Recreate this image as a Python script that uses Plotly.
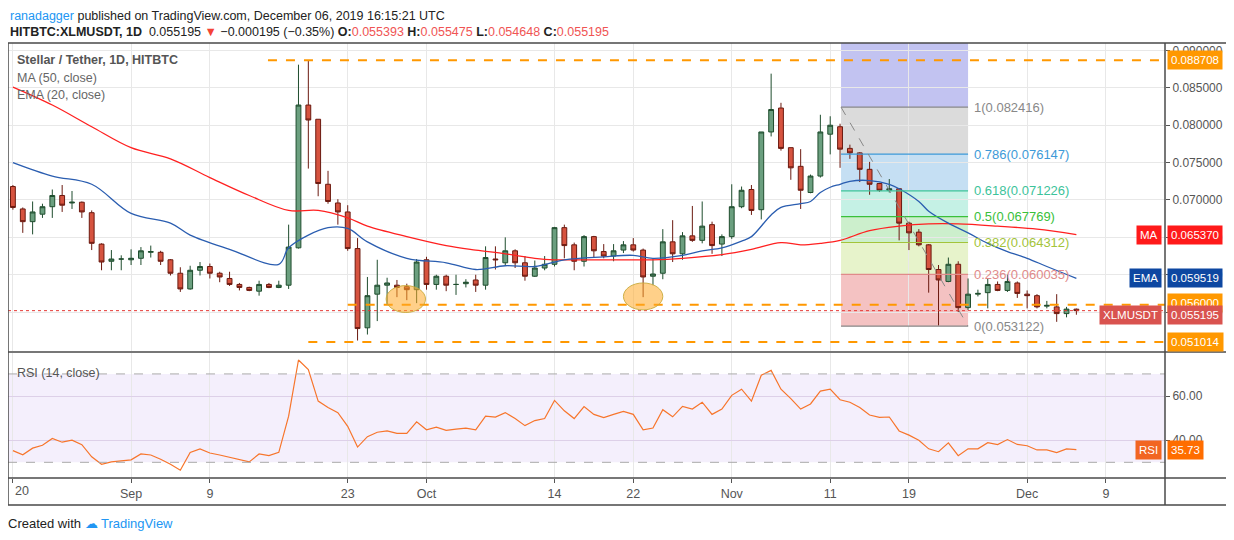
import plotly.graph_objects as go
import pandas as pd

start = pd.Timestamp("2019-08-20")
opens = [.0718,.0688,.0671,.0681,.0691,.0706,.0696,.0697,.0683,.0641,.0618,.0621,.0620,.0622,.0630,.0630,.0620,.0602,.0581,.0606,
         .0611,.0602,.0595,.0587,.0583,.0578,.0587,.0583,.0586,.0636,.0827,.0808,.0721,.0696,.0684,.0635,.0529,.0574,.0586,.0586,
         .0584,.0580,.0620,.0587,.0598,.0587,.0588,.0593,.0586,.0621,.0616,.0632,.0616,.0598,.0609,.0614,.0663,.0640,.0618,.0651,
         .0631,.0625,.0633,.0640,.0633,.0598,.0602,.0644,.0628,.0652,.0646,.0667,.0641,.0651,.0691,.0714,.0687,.0791,.0823,.0770,
         .0745,.0710,.0732,.0788,.0798,.0769,.0763,.0741,.0722,.0713,.0715,.0669,.0657,.0640,.0607,.0591,.0614,.0556,.0574,.0576,
         .0587,.0579,.0589,.0574,.0572,.0558,.0557,.0548,.055393]
highs = [.0720,.0690,.0698,.0695,.0714,.0720,.0712,.0698,.0686,.0642,.0633,.0626,.0634,.0637,.0639,.0632,.0621,.0610,.0612,.0617,
         .0615,.0604,.0604,.0589,.0584,.0592,.0589,.0592,.0667,.0881,.0887,.0808,.0739,.0701,.0693,.0649,.0597,.0620,.0596,.0593,
         .0588,.0621,.0624,.0600,.0600,.0600,.0594,.0600,.0638,.0638,.0650,.0634,.0625,.0619,.0625,.0664,.0667,.0643,.0653,.0652,
         .0641,.0641,.0645,.0649,.0635,.0621,.0661,.0673,.0657,.0692,.0698,.0671,.0654,.0721,.0718,.0720,.0791,.0869,.0830,.0770,
         .0768,.0734,.0814,.0812,.0802,.0774,.0764,.0751,.0723,.0728,.0716,.0671,.0661,.0641,.0613,.0623,.0618,.0595,.0580,.0595,
         .0591,.0600,.0591,.0579,.0574,.0565,.0574,.0557,.055475]
lows = [.0687,.0656,.0654,.0676,.0676,.0684,.0688,.0676,.0633,.0606,.0606,.0606,.0613,.0613,.0623,.0613,.0599,.0577,.0580,.0599,
        .0595,.0590,.0585,.0579,.0578,.0572,.0582,.0582,.0581,.0635,.0742,.0705,.0695,.0667,.0632,.0512,.0520,.0538,.0560,.0570,
        .0566,.0562,.0580,.0580,.0578,.0573,.0583,.0577,.0580,.0607,.0612,.0609,.0592,.0597,.0606,.0611,.0622,.0606,.0611,.0623,
        .0622,.0618,.0629,.0631,.0570,.0586,.0594,.0617,.0620,.0644,.0642,.0628,.0625,.0648,.0689,.0680,.0674,.0785,.0766,.0727,
        .0688,.0709,.0730,.0761,.0743,.0755,.0724,.0707,.0711,.0710,.0646,.0633,.0638,.0576,.0532,.0590,.0550,.0553,.0571,.0555,
        .0578,.0577,.0569,.0555,.0555,.0555,.0537,.0543,.054648]
closes = [.0690,.0671,.0684,.0691,.0706,.0693,.0697,.0684,.0642,.0617,.0621,.0621,.0622,.0632,.0631,.0618,.0602,.0581,.0606,.0611,
          .0602,.0597,.0587,.0583,.0579,.0587,.0583,.0586,.0637,.0827,.0807,.0722,.0698,.0684,.0635,.0528,.0572,.0586,.0589,.0583,
          .0580,.0617,.0587,.0598,.0586,.0587,.0590,.0586,.0623,.0620,.0632,.0616,.0598,.0609,.0614,.0663,.0639,.0618,.0651,.0632,
          .0625,.0632,.0640,.0633,.0597,.0601,.0644,.0628,.0652,.0646,.0665,.0639,.0651,.0691,.0713,.0686,.0791,.0821,.0769,.0743,
          .0713,.0732,.0791,.0800,.0768,.0763,.0741,.0721,.0713,.0715,.0669,.0656,.0640,.0607,.0593,.0614,.0556,.0574,.0575,.0587,
          .0579,.0591,.0575,.0572,.0557,.0559,.0548,.0554,.055195]
rsi = [35.3,33.4,36.4,37.7,40.8,39.1,40.0,38.0,32.5,29.1,30.2,30.6,31.1,33.8,33.3,31.4,29.1,26.4,34.5,36.1,
       34.2,33.3,32.2,31.1,30.2,33.8,33.0,34.5,50.9,76.3,72.0,57.7,54.8,52.5,46.3,36.9,41.6,43.6,44.2,43.1,
       43.1,48.3,44.7,45.9,44.5,45.0,45.5,44.7,50.9,50.5,52.5,49.8,46.6,48.9,49.8,58.0,53.3,49.8,55.2,51.7,
       50.2,51.7,53.0,51.7,44.7,45.5,53.8,50.6,55.3,54.1,57.2,51.7,54.1,60.3,63.1,57.7,69.4,71.6,63.1,58.8,
       54.1,56.4,62.2,63.1,58.3,57.2,54.8,51.4,50.3,50.5,44.2,42.3,40.0,36.1,34.8,38.8,33.0,36.1,36.1,38.9,
       38.0,40.3,38.1,37.5,35.6,35.6,34.4,36.1,35.73]
ema_idx = [0,4,8,12,16,18,22,27,28,30,32,34,36,40,44,47,50,53,56,60,63,65,68,70,72,74,75,77,78,80,81,82,83,84,85,87,89,90,92,93,95,97,99,101,103,105,108]
ema_val = [.0750,.0732,.0721,.0682,.0669,.0653,.0634,.0614,.0636,.0653,.0663,.0662,.0644,.0622,.0616,.0607,.0612,.0611,.0620,.0624,.0626,.0622,.0626,.0632,.0636,.0645,.0651,.0680,.0690,.0695,.0698,.0710,.0717,.0721,.0725,.0726,.0721,.0715,.0698,.0685,.0669,.0656,.0642,.0631,.0622,.0611,.059519]
ma_idx = [0,4,8,12,16,20,24,28,31,34,36,40,44,47,50,53,55,60,65,68,72,75,78,80,82,84,87,90,93,96,100,104,108]
ma_val = [.0851,.0827,.0798,.0770,.0755,.0730,.0706,.0686,.0686,.0676,.0665,.0651,.0639,.0633,.0628,.0622,.0620,.0620,.0620,.0622,.0627,.0634,.0643,.0640,.0642,.0646,.0659,.0665,.0668,.0668,.0665,.0661,.06537]
fib_levels = [1, 0.786, 0.618, 0.5, 0.382, 0.236, 0]
fib_prices = [0.082416, 0.076147, 0.071226, 0.067769, 0.064312, 0.060035, 0.053122]
tick_dates = ["2019-08-20","2019-09-01","2019-09-09","2019-09-23","2019-10-01","2019-10-14","2019-10-22","2019-11-01","2019-11-11","2019-11-19","2019-12-01","2019-12-09"]
tick_text = ["20","Sep","9","23","Oct","14","22","Nov","11","19","Dec","9"]
price_ticks = [0.055,0.060,0.065,0.070,0.075,0.080,0.085,0.090]

dates = [start + pd.Timedelta(days=i) for i in range(len(closes))]
D = lambda i: start + pd.Timedelta(hours=24*i)

fig = go.Figure()
fig.add_trace(go.Candlestick(x=dates, open=opens, high=highs, low=lows, close=closes,
    increasing=dict(fillcolor="#6b9f7f", line=dict(color="#1f4d2e", width=1)),
    decreasing=dict(fillcolor="#d6533f", line=dict(color="#6b1a10", width=1)),
    whiskerwidth=0, showlegend=False, hoverinfo="skip"))
fig.add_trace(go.Scatter(x=[D(i) for i in ma_idx], y=ma_val, mode="lines", line=dict(color="#ff2020", width=1.3, shape="spline"), showlegend=False))
fig.add_trace(go.Scatter(x=[D(i) for i in ema_idx], y=ema_val, mode="lines", line=dict(color="#2a5db0", width=1.3, shape="spline"), showlegend=False))
fig.add_trace(go.Scatter(x=dates, y=rsi, mode="lines", line=dict(color="#f7752b", width=1.2), xaxis="x2", yaxis="y2", showlegend=False))

shapes = []
fl, fr = D(84.1), D(97)
shapes.append(dict(type="rect", xref="x", yref="y", x0=fl, x1=fr, y0=fib_prices[0], y1=0.0915, fillcolor="rgba(120,123,225,0.45)", line_width=0, layer="below"))
fills = ["rgba(175,175,175,0.45)","rgba(110,175,225,0.4)","rgba(110,220,190,0.4)","rgba(110,210,110,0.35)","rgba(195,225,125,0.4)","rgba(230,120,120,0.45)"]
cols = ["#888888","#3d9ad8","#3cc39a","#3ac03a","#a3c43a","#e08a8a","#888888"]
for k in range(6):
    shapes.append(dict(type="rect", xref="x", yref="y", x0=fl, x1=fr, y0=fib_prices[k+1], y1=fib_prices[k], fillcolor=fills[k], line_width=0, layer="below"))
for k, p in enumerate(fib_prices):
    shapes.append(dict(type="line", xref="x", yref="y", x0=fl, x1=fr, y0=p, y1=p, line=dict(color=cols[k], width=1.2)))
shapes.append(dict(type="line", xref="x", yref="y", x0=fl, x1=fr, y0=fib_prices[0], y1=fib_prices[-1], line=dict(color="#888", width=1, dash="dash")))
for p, i0 in [(0.088708, 25.9), (0.056, 34), (0.051014, 30)]:
    shapes.append(dict(type="line", xref="x", yref="y", x0=D(i0), x1=D(117), y0=p, y1=p, line=dict(color="#ff9800", width=2, dash="dash")))
shapes.append(dict(type="line", xref="x", yref="y", x0=D(-0.5), x1=D(117), y0=0.055195, y1=0.055195, line=dict(color="#e53935", width=1, dash="dot")))
for ci, cp in [(39.9, 0.05675), (64, 0.0571)]:
    shapes.append(dict(type="circle", xref="x", yref="y", x0=D(ci-2), x1=D(ci+2), y0=cp-0.0018, y1=cp+0.0018, fillcolor="rgba(255,170,40,0.55)", line=dict(color="rgba(200,170,60,0.9)", width=1)))
shapes.append(dict(type="rect", xref="paper", yref="y2", x0=0, x1=1, y0=30, y1=70, fillcolor="rgba(150,100,230,0.1)", line_width=0, layer="below"))
for v in (30, 70):
    shapes.append(dict(type="line", xref="paper", yref="y2", x0=0, x1=1, y0=v, y1=v, line=dict(color="#aaa", width=1, dash="dash")))
px = lambda p: (p - 8) / 1157
py = lambda p: (478 - p) / 435
fc = dict(color="#4a4a4a", width=1.5)
shapes.append(dict(type="rect", xref="paper", yref="paper", x0=0, x1=px(1233), y0=py(505), y1=1, line=fc))
shapes.append(dict(type="line", xref="paper", yref="paper", x0=1, x1=1, y0=py(505), y1=1, line=fc))
shapes.append(dict(type="line", xref="paper", yref="paper", x0=0, x1=px(1233), y0=0, y1=0, line=fc))
shapes.append(dict(type="line", xref="paper", yref="paper", x0=0, x1=px(1233), y0=py(352), y1=py(352), line=fc))

ann = []
F = "Liberation Sans"
def box(text, y, bg, yref="y", x=1.002, xanchor="left", color="white"):
    ann.append(dict(text=text, xref="paper", yref=yref, x=x, y=y, xanchor=xanchor, yanchor="middle", showarrow=False,
                    bgcolor=bg, font=dict(color=color, size=11.5, family=F), borderpad=3))
box("0.088708", 0.088708, "#ff9800")
box("MA", 0.06537, "#ff1a1a", x=0.997, xanchor="right"); box("0.065370", 0.06537, "#ff1a1a")
box("EMA", 0.059519, "#0d47a1", x=0.997, xanchor="right"); box("0.059519", 0.059519, "#0d47a1")
box("0.056000", 0.0562, "#ff9800")
box("XLMUSDT", 0.0546, "#d9534f", x=0.997, xanchor="right"); box("0.055195", 0.0546, "#d9534f")
box("0.051014", 0.051014, "#ff9800")
box("RSI", 35.73, "#f26522", yref="y2", x=0.997, xanchor="right"); box("35.73", 35.73, "#ff6d00", yref="y2")
fib_txt = ["1(0.082416)","0.786(0.076147)","0.618(0.071226)","0.5(0.067769)","0.382(0.064312)","0.236(0.060035)","0(0.053122)"]
for k, p in enumerate(fib_prices):
    ann.append(dict(text=fib_txt[k], x=D(97.4), y=p, xref="x", yref="y", xanchor="left", yanchor="middle", showarrow=False,
                    font=dict(color=cols[k], size=13, family=F)))
for t, yy, c in [("<b>Stellar / Tether, 1D, HITBTC</b>", 60, "#555"), ("MA (50, close)", 78, "#666"), ("EMA (20, close)", 95, "#666")]:
    ann.append(dict(text=t, xref="paper", yref="paper", x=px(15), y=py(yy), xanchor="left", yanchor="middle", showarrow=False, font=dict(color=c, size=12.5, family=F)))
ann.append(dict(text="RSI (14, close)", xref="paper", yref="paper", x=px(15), y=py(373), xanchor="left", yanchor="middle", showarrow=False, font=dict(color="#555", size=12.5, family=F)))
ann.append(dict(text="<span style='color:#2196f3'>ranadagger</span> published on TradingView.com, December 06, 2019 16:15:21 UTC",
                xref="paper", yref="paper", x=px(8), y=py(16), xanchor="left", yanchor="middle", showarrow=False, font=dict(color="#222", size=12.5, family=F)))
ann.append(dict(text="<b>HITBTC:XLMUSDT, 1D</b>  0.055195 <span style='color:#f44336'>▼</span> −0.000195 (−0.35%) <b>O:</b><span style='color:#f05454'>0.055393</span> <b>H:</b><span style='color:#f05454'>0.055475</span> <b>L:</b><span style='color:#f05454'>0.054648</span> <b>C:</b><span style='color:#f05454'>0.055195</span>",
                xref="paper", yref="paper", x=px(8), y=py(32), xanchor="left", yanchor="middle", showarrow=False, font=dict(color="#222", size=12.5, family=F)))
ann.append(dict(text="Created with <span style='color:#2196f3'>☁ TradingView</span>", xref="paper", yref="paper", x=px(6), y=py(523),
                xanchor="left", yanchor="middle", showarrow=False, font=dict(color="#222", size=13, family=F)))
ann.append(dict(text=tick_text[0], xref="x2", yref="paper", x=tick_dates[0], y=py(491), xanchor="left", yanchor="middle",
                showarrow=False, font=dict(color="#555", size=12.5, family=F)))

grid = "#e8e8e8"
fig.update_layout(
    width=1226, height=532, margin=dict(l=0, r=69, t=35, b=62), paper_bgcolor="white", plot_bgcolor="white",
    font=dict(family=F, size=12, color="#555"), shapes=shapes, annotations=ann, hovermode=False,
    xaxis=dict(domain=[0, 1], range=[D(-0.5), D(117)], rangeslider=dict(visible=False), showticklabels=False,
               tickvals=tick_dates, gridcolor=grid, showline=False, zeroline=False, anchor="y"),
    yaxis=dict(domain=[0.292, 1], range=[0.0498, 0.0910], side="right", tickvals=price_ticks, tickformat=".6f",
               gridcolor=grid, ticks="outside", ticklen=4, tickcolor="#555", zeroline=False, tickfont=dict(size=12, color="#555")),
    xaxis2=dict(domain=[0, 1], range=[D(-0.5), D(117)], tickvals=tick_dates, ticktext=[""] + tick_text[1:], gridcolor=grid,
                ticks="outside", ticklen=4, tickcolor="#555", anchor="y2", matches="x", tickfont=dict(size=12.5, color="#555")),
    yaxis2=dict(domain=[0, 0.287], range=[22.9, 79.4], side="right", tickvals=[40, 60], tickformat=".2f", gridcolor="#ddd0e8",
                ticks="outside", ticklen=4, tickcolor="#555", zeroline=False, anchor="x2", tickfont=dict(size=12, color="#555")),
)
fig.write_html("out.html")
